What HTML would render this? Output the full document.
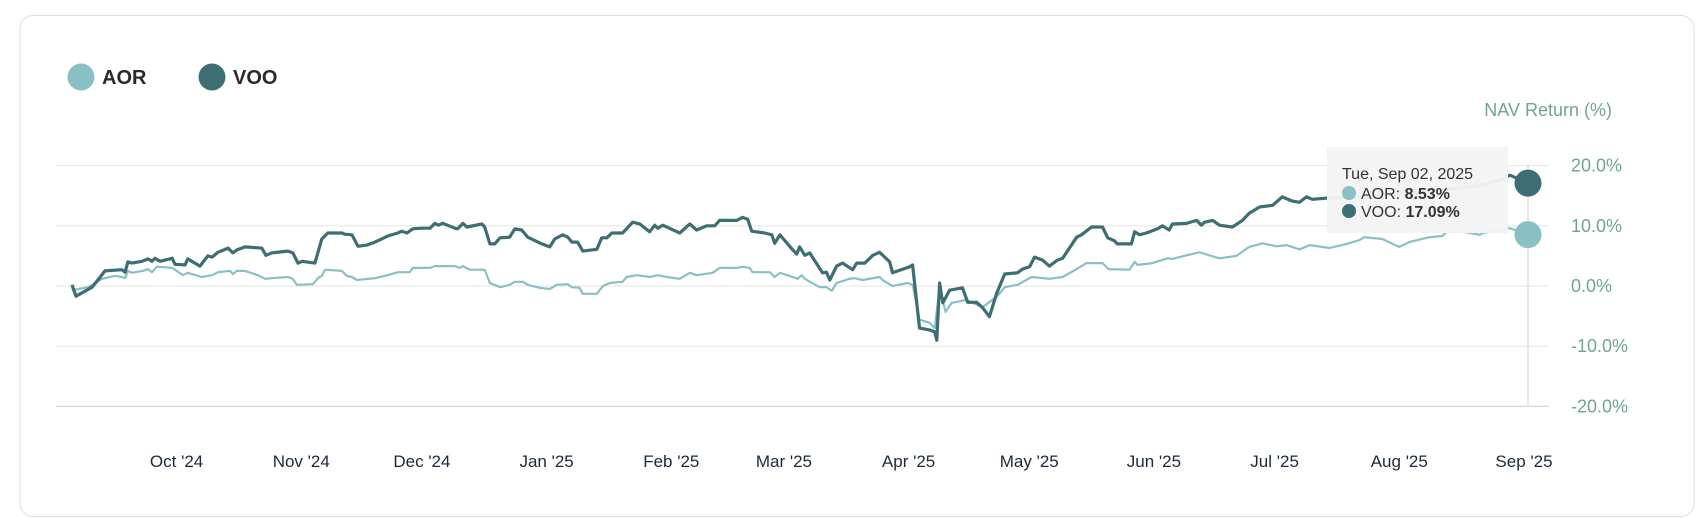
<!DOCTYPE html>
<html><head><meta charset="utf-8"><style>
html,body{margin:0;padding:0;background:#fff;width:1704px;height:518px;overflow:hidden}
svg{display:block;font-family:"Liberation Sans",sans-serif}
</style></head><body>
<svg id="chart" width="1704" height="518" viewBox="0 0 1704 518" xmlns="http://www.w3.org/2000/svg">
<rect x="20" y="15.5" width="1674" height="501" rx="13" fill="#fff" stroke="#dedede" stroke-width="1"/>
<g>
 <g><circle cx="81" cy="77" r="13.5" fill="#88c0c4"/><text x="102" y="84" font-size="20" font-weight="bold" fill="#2a2a2a">AOR</text></g>
 <g><circle cx="212" cy="77" r="13.5" fill="#3d6e74"/><text x="233" y="84" font-size="20" font-weight="bold" fill="#2a2a2a">VOO</text></g>
</g>
<text x="1612" y="116" text-anchor="end" font-size="18" fill="#6fa592">NAV Return (%)</text>
<g id="grid"></g><g id="yticks"></g><g id="xticks"></g>
<line x1="1528" y1="165" x2="1528" y2="406" stroke="#cfcfcf" stroke-width="1"/>
<g id="lines"></g>
<g>
 <rect x="1327" y="147" width="181" height="86" fill="#f4f4f4" fill-opacity="0.96"/>
 <text x="1342" y="179" font-size="16" fill="#333">Tue, Sep 02, 2025</text>
 <circle cx="1349" cy="193" r="7" fill="#88c0c4"/>
 <text x="1361" y="199" font-size="16" fill="#333">AOR: <tspan font-weight="bold">8.53%</tspan></text>
 <circle cx="1349" cy="211" r="7" fill="#3d6e74"/>
 <text x="1361" y="217" font-size="16" fill="#333">VOO: <tspan font-weight="bold">17.09%</tspan></text>
</g>
<g id="markers"></g>
</svg>
<script>
const startDate = '2024-09-05';
const yTicks = [20, 10, 0, -10, -20];
const yTickLabels = ['20.0%', '10.0%', '0.0%', '-10.0%', '-20.0%'];
const xTickDays = [26, 57, 87, 118, 149, 177, 208, 238, 269, 299, 330, 361];
const xTickLabels = ["Oct '24","Nov '24","Dec '24","Jan '25","Feb '25","Mar '25","Apr '25","May '25","Jun '25","Jul '25","Aug '25","Sep '25"];
const vooDays = [0,1,5,8.2,12.4,13.2,13.9,14.9,17.4,18.9,19.9,20.6,21.9,24.9,25.6,28.1,28.8,31.8,33.8,34.8,36.3,38.8,40,41,43,47.2,48.2,49.7,53.7,54.9,56.2,57.2,60.4,62.1,63.6,67.1,67.8,69.6,71.1,73.3,75.3,77,78.5,81,82,83.3,84.7,87,89,90.2,91,92.2,95.2,95.9,97.2,98.2,101.9,102.6,103.9,105.1,106.4,108.8,110.1,111.8,113.3,116.8,118.8,120,122,123.3,124.3,125.7,127,130.5,131.7,133,134.2,136.9,139.4,141.2,143.6,144.9,145.6,146.9,151.1,153.6,155.3,157.8,159.8,161,165.3,166.7,168,169,172.2,174,174.7,176,179.2,180.2,180.9,182.2,183.4,186.6,187.6,188.4,190.1,191.6,194.1,195.1,197.1,199.1,200.8,203.3,204,208.3,209,210.7,213.2,214.5,215,215.7,216.5,218.2,221.4,222.7,224.9,226.4,228.1,229.9,231.9,235.1,236.3,238.1,239.3,241.3,243,245,246.3,249.8,251,253.5,256.2,257.5,259.2,259.9,263.4,264.2,265.4,267.1,269.9,271.1,272.8,273.6,277.1,279.6,280.8,281.6,283.6,285.3,288.5,291,292.7,295.2,298.5,300.9,303.4,305.2,306.9,308.4,311.9,320,330,340,350,355,357.5,362];
const vooValues = [0.2,-1.7,-0.2,2.5,2.7,2.3,4.0,3.8,4.1,4.5,4.1,4.6,4.1,4.6,3.6,3.5,4.5,3.3,5.0,4.8,5.6,6.3,5.5,6.0,6.5,6.3,5.1,5.5,5.8,5.5,3.8,4.1,3.8,7.8,8.8,8.8,8.6,8.5,6.6,6.8,7.3,7.8,8.3,8.8,9.1,8.8,9.5,9.6,9.6,10.4,10.1,10.4,9.6,9.5,10.4,9.8,10.3,9.8,7.0,7.0,8.0,8.1,9.5,9.3,8.1,7.0,6.5,7.8,8.5,8.1,7.3,7.3,5.8,6.1,8.0,8.0,8.8,8.8,10.6,10.3,9.0,10.1,9.6,10.1,8.8,10.3,9.3,10.0,10.0,10.9,10.9,11.4,11.1,9.1,8.8,8.5,7.1,8.5,6.0,5.3,6.5,5.1,5.5,2.2,2.3,1.0,3.3,3.8,2.7,3.8,3.8,5.1,5.6,4.0,2.2,3.2,3.5,-7.0,-7.3,-7.6,-9.0,0.5,-2.8,-0.7,-0.3,-2.7,-2.7,-3.6,-5.1,-1.2,2.0,2.2,2.8,3.2,4.8,4.3,3.3,4.3,4.6,8.1,8.5,9.8,9.8,8.0,7.5,7.0,7.0,9.0,8.5,8.8,9.5,10.0,9.3,10.3,10.4,10.9,10.1,10.6,10.9,10.1,9.8,10.9,12.1,13.1,13.4,14.8,14.1,13.9,14.8,14.4,14.6,14.8,15.3,15.9,16.7,17.6,18.4,17.09];
const aorDays = [0,4,7.5,10.7,12.4,13.2,13.9,14.9,17.6,18.9,19.9,21.1,24.9,27.6,28.8,32.3,34.8,36.3,39.3,40,41,43,46.2,48,49.7,53.7,54.9,55.9,59.9,61.1,62.1,62.9,67.1,68.3,69.6,70.8,75.3,78.5,81,84,84.7,89,90.2,95.2,96.4,97.2,98.9,102.6,103.9,106.4,108.8,110.1,112.1,113.3,116.3,118.8,120.5,123.3,124.3,126.2,127,130.5,132,133.7,136.9,137.9,140.4,143.6,145.6,147.9,151.1,153.6,155.3,159.3,161,165.3,166.7,168.5,169.2,173.5,174.7,176,179.2,180.4,181.4,182.2,185.9,187.6,188.9,190.1,193.3,194.6,196.6,200.8,201.5,204,207.8,209,210.7,213.2,214.5,215.7,217.2,218.7,222.4,223.9,226.4,229.9,231.9,235.1,238.6,243,246.3,249.8,252.2,256.2,257.7,262.9,264.2,264.9,268.6,272.4,273.6,277.1,280.3,282.8,285.3,289.5,292.7,296,299.5,301.9,305.2,307.7,312.6,316.9,320,321.3,325.8,330,332.5,337.5,340.7,341.7,346,350,350.7,357.5,362];
const aorValues = [-0.7,-0.2,1.2,1.7,1.5,1.3,2.5,2.2,2.5,2.8,2.3,3.2,3.0,1.8,2.2,1.5,1.8,2.3,2.5,2.0,2.5,2.5,1.8,1.2,1.3,1.5,1.2,0.2,0.3,1.3,1.7,2.7,2.5,1.7,1.5,1.0,1.3,1.8,2.3,2.3,3.0,3.0,3.3,3.3,3.0,3.3,2.7,2.7,0.5,-0.2,0.2,0.7,0.7,0.2,-0.3,-0.5,0.2,0.3,-0.2,-0.3,-1.3,-1.3,0.0,0.5,0.7,1.5,1.8,1.5,1.8,1.5,1.2,2.2,1.8,2.2,3.0,3.0,3.2,3.0,2.3,2.3,1.5,2.2,1.5,1.2,1.8,1.2,-0.2,-0.2,-0.8,0.5,1.2,1.3,1.0,1.5,1.0,0.0,0.5,0.2,-5.6,-6.1,-7.0,-0.3,-4.3,-2.8,-2.3,-2.8,-3.5,-1.8,-0.2,0.2,1.5,1.2,1.5,2.8,3.8,3.8,2.8,2.7,4.0,3.5,3.8,4.6,4.5,5.1,5.6,5.1,4.6,5.0,6.5,7.1,6.6,6.8,6.1,6.8,6.3,7.0,7.6,8.1,7.8,6.5,7.3,8.1,8.3,9.0,9.0,8.5,8.8,9.6,8.53];

const NS = 'http://www.w3.org/2000/svg';
const X0 = 72, X1 = 1528, D1 = 362;
function xScale(d){ return X0 + d * (X1 - X0) / D1; }
function yScale(v){ return 286 - v * 6.02; }
function mk(tag, attrs, parent){ const e = document.createElementNS(NS, tag); for (const k in attrs) e.setAttribute(k, attrs[k]); parent.appendChild(e); return e; }

const grid = document.getElementById('grid'), yt = document.getElementById('yticks'), xt = document.getElementById('xticks');
yTicks.forEach((v, i) => {
  const y = yScale(v);
  const l = mk('line', {x1: 56, x2: 1549, y1: y, y2: y, stroke: v === -20 ? '#d6dce4' : '#e6e6e6', 'stroke-width': v === -20 ? 1.5 : 1}, grid);
  
  
  const t = mk('text', {x: 1571, y: y + 6, 'font-size': 18, fill: '#6fa592'}, yt);
  t.textContent = yTickLabels[i];
  
  
});
xTickDays.forEach((d, i) => {
  const t = mk('text', {x: xScale(d), y: 467, 'font-size': 17, fill: '#1b2a3a', 'text-anchor': 'middle'}, xt);
  t.textContent = xTickLabels[i];
  
  
});
const lines = document.getElementById('lines');
function path(days, vals){ return days.map((d, i) => (i ? 'L' : 'M') + xScale(d).toFixed(1) + ',' + yScale(vals[i]).toFixed(1)).join(''); }
const pa = mk('path', {d: path(aorDays, aorValues), fill: 'none', stroke: '#88c0c4', 'stroke-width': 2.2, 'stroke-linejoin': 'round'}, lines);


const pv = mk('path', {d: path(vooDays, vooValues), fill: 'none', stroke: '#3d6e74', 'stroke-width': 3.2, 'stroke-linejoin': 'round'}, lines);


const mg = document.getElementById('markers');
const ma = mk('circle', {cx: xScale(aorDays[aorDays.length-1]), cy: yScale(aorValues[aorValues.length-1]), r: 13.5, fill: '#88c0c4'}, mg);


const mv = mk('circle', {cx: xScale(vooDays[vooDays.length-1]), cy: yScale(vooValues[vooValues.length-1]), r: 13.5, fill: '#3d6e74'}, mg);


</script>
</body></html>
